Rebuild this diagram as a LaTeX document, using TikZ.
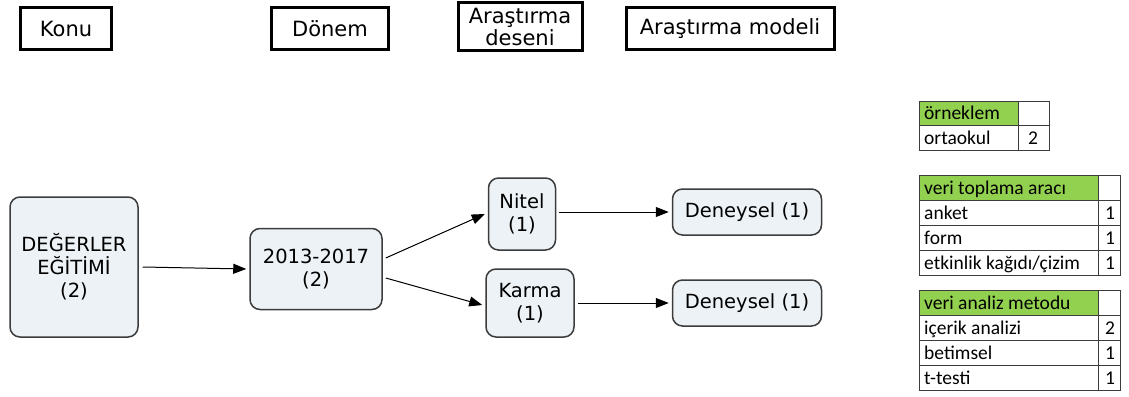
\documentclass[tikz,border=0pt]{standalone}
\usepackage{fontspec}
\setmainfont{DejaVu Sans}
\newfontfamily\tabfont{Carlito}
\usetikzlibrary{arrows.meta}
\definecolor{nodefill}{RGB}{236,242,246}
\definecolor{nodeline}{RGB}{60,60,60}
\definecolor{hdrgreen}{RGB}{146,208,80}
\tikzset{
  hdr/.style={draw=black, line width=3pt, inner sep=0pt, align=center, font=\fontsize{21}{23}\selectfont},
  mainbox/.style={draw=nodeline, fill=nodefill, line width=1.5pt, rounded corners=10pt, inner sep=0pt, align=center, font=\fontsize{19.5}{23}\selectfont},
  conn/.style={-{Triangle[length=13pt,width=10pt]}, line width=1pt, black},
  cell/.style={draw=nodeline, line width=1pt},
  tx/.style={anchor=base west, inner sep=0pt, font=\tabfont\fontsize{19.5}{22}\selectfont},
  num/.style={anchor=base, inner sep=0pt, font=\tabfont\fontsize{19.5}{22}\selectfont}
}
\begin{document}
\begin{tikzpicture}[x=1pt,y=-1pt]
\useasboundingbox (0,0) rectangle (1129,396);
% headers
\node[hdr, minimum width=91pt, minimum height=42pt] (h1) at (66,29) {Konu};
\node[hdr, minimum width=117pt, minimum height=42pt] (h2) at (330,29) {Dönem};
\node[hdr, minimum width=124pt, minimum height=48pt] (h3) at (520,27) {Araştırma\\[-1pt]deseni};
\node[hdr, minimum width=208pt, minimum height=42pt] (h4) at (730,29) {Araştırma modeli};
% main nodes
\node[mainbox, minimum width=128pt, minimum height=140pt] (a) at (74,267) {DEĞERLER\\EĞİTİMİ\\(2)};
\node[mainbox, minimum width=132pt, minimum height=81pt] (b) at (316,269) {2013-2017\\(2)};
\node[mainbox, minimum width=67pt, minimum height=72pt] (c) at (522,214) {Nitel\\(1)};
\node[mainbox, minimum width=88pt, minimum height=68pt] (d) at (530,303) {Karma\\(1)};
\node[mainbox, minimum width=149pt, minimum height=46pt] (e) at (747,212) {Deneysel (1)};
\node[mainbox, minimum width=149pt, minimum height=46pt] (f) at (747,303) {Deneysel (1)};
% connectors
\draw[conn] ([xshift=4pt]a.east) -- ([xshift=-3pt]b.west);
\draw[conn] ([shift={(3pt,11pt)}]b.east) -- ([xshift=-3pt]c.west);
\draw[conn] ([shift={(3pt,-9pt)}]b.east) -- ([shift={(-3pt,-2pt)}]d.west);
\draw[conn] ([xshift=3pt]c.east |- e.west) -- ([xshift=-3pt]e.west);
\draw[conn] ([xshift=3pt]d.east |- f.west) -- ([xshift=-3pt]f.west);
% table 1
\fill[hdrgreen] (919,101) rectangle (1018,125);
\draw[cell] (919,101) rectangle (1049,150);
\draw[cell] (919,125) -- (1049,125);
\draw[cell] (1018,101) -- (1018,150);
\node[tx] (t1h) at (924,119.5) {örneklem};
\node[tx] (t1a) at (924,144.5) {ortaokul};
\node[num] (t1n) at (1033,144.5) {2};
% table 2
\fill[hdrgreen] (919,175) rectangle (1098,200);
\draw[cell] (919,175) rectangle (1120,275);
\foreach \yy in {200,225,250} \draw[cell] (919,\yy) -- (1120,\yy);
\draw[cell] (1098,175) -- (1098,275);
\node[tx] (t2h) at (924,194) {veri toplama aracı};
\node[tx] (t2a) at (924,219) {anket};
\node[tx] (t2b) at (924,244) {form};
\node[tx] (t2c) at (924,269) {etkinlik kağıdı/çizim};
\node[num] (t2an) at (1110,219) {1};
\node[num] (t2bn) at (1110,244) {1};
\node[num] (t2cn) at (1110,269) {1};
% table 3
\fill[hdrgreen] (919,290) rectangle (1098,315);
\draw[cell] (919,290) rectangle (1120,390);
\foreach \yy in {315,340,365} \draw[cell] (919,\yy) -- (1120,\yy);
\draw[cell] (1098,290) -- (1098,390);
\node[tx] (t3h) at (924,309) {veri analiz metodu};
\node[tx] (t3a) at (924,334) {içerik analizi};
\node[tx] (t3b) at (924,359) {betimsel};
\node[tx] (t3c) at (924,384) {t-testi};
\node[num] (t3an) at (1110,334) {2};
\node[num] (t3bn) at (1110,359) {1};
\node[num] (t3cn) at (1110,384) {1};
\end{tikzpicture}
\end{document}
